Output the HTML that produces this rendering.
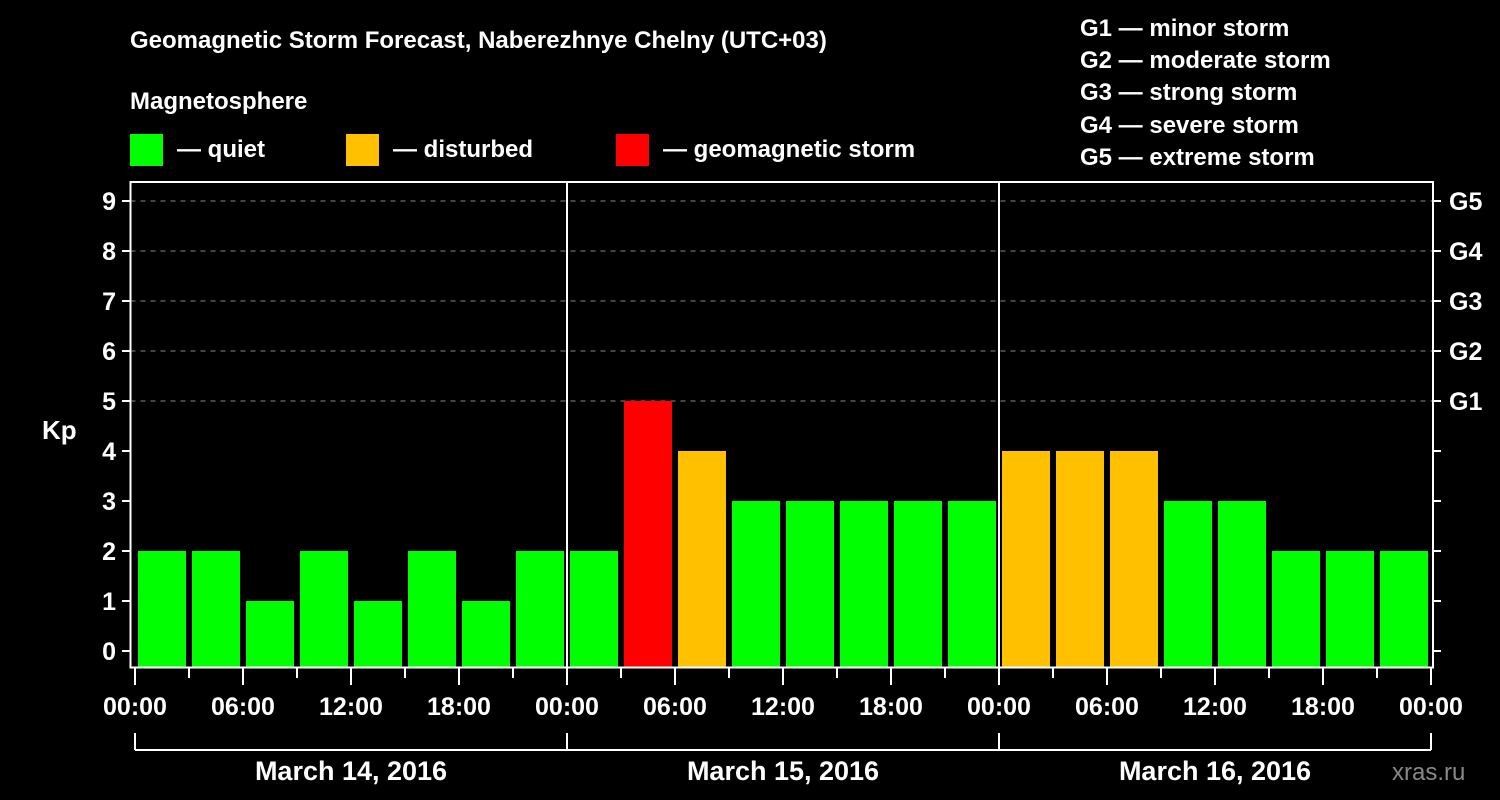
<!DOCTYPE html>
<html><head><meta charset="utf-8"><style>
body{margin:0;background:#000;width:1500px;height:800px;overflow:hidden}
svg{display:block;font-family:"Liberation Sans",Arial,sans-serif;font-weight:bold}
</style></head><body>
<svg id="c" width="1500" height="800" viewBox="0 0 1500 800">
<text x="130" y="48" fill="#fff" font-size="24">Geomagnetic Storm Forecast, Naberezhnye Chelny (UTC+03)</text>
<text x="130" y="109" fill="#fff" font-size="24">Magnetosphere</text>
<g><rect x="130" y="134" width="33" height="32" fill="#00ff00"/><text x="177" y="157" fill="#fff" font-size="24">— quiet</text></g>
<g><rect x="346" y="134" width="33" height="32" fill="#ffc000"/><text x="393" y="157" fill="#fff" font-size="24">— disturbed</text></g>
<g><rect x="616" y="134" width="33" height="32" fill="#ff0000"/><text x="663" y="157" fill="#fff" font-size="24">— geomagnetic storm</text></g>
<g fill="#fff" font-size="24">
<text x="1080" y="36">G1 — minor storm</text>
<text x="1080" y="68">G2 — moderate storm</text>
<text x="1080" y="100">G3 — strong storm</text>
<text x="1080" y="133">G4 — severe storm</text>
<text x="1080" y="165">G5 — extreme storm</text>
</g>
<text x="42" y="439" fill="#fff" font-size="26">Kp</text>
<text x="1392" y="780" fill="#888" font-size="24" font-weight="normal">xras.ru</text>
<g id="plot"></g>
</svg>
<script>
const days = ["March 14, 2016","March 15, 2016","March 16, 2016"];
const kp = [2,2,1,2,1,2,1,2, 2,5,4,3,3,3,3,3, 4,4,4,3,3,2,2,2];
const yTicks = [0,1,2,3,4,5,6,7,8,9];
const gLabels = ["G1","G2","G3","G4","G5"];
const gLevels = [5,6,7,8,9];
const xLabels = ["00:00","06:00","12:00","18:00"];

const NS="http://www.w3.org/2000/svg";
const g=document.getElementById('plot');
const L=130.5,R=1433,T=182,B=667.5;
const x0=135,dayW=432;
const y=v=>651-v*50;
const xh=h=>x0+h*dayW/24;
function mk(t,a){const e=document.createElementNS(NS,t);for(const k in a)e.setAttribute(k,a[k]);g.appendChild(e);return e;}
function col(v){return v>=5?"#ff0000":v>=4?"#ffc000":"#00ff00";}
// grid
gLevels.forEach(v=>{const e=mk('line',{x1:L,x2:R,y1:y(v),y2:y(v),stroke:"#888","stroke-dasharray":"5,5","stroke-width":1});

});
// bars
kp.forEach((v,i)=>{const e=mk('rect',{x:xh(i*3)+3,y:y(v),width:48,height:B-y(v),fill:col(v)});

});
// day separators
for(let d=1;d<days.length;d++){const e=mk('line',{x1:xh(d*24),x2:xh(d*24),y1:T,y2:B,stroke:"#fff","stroke-width":2});

}
// frame
const fr=mk('rect',{x:L,y:T,width:R-L,height:B-T,fill:"none",stroke:"#fff","stroke-width":2});


// y ticks
yTicks.forEach(v=>{mk('line',{x1:122,x2:L,y1:y(v),y2:y(v),stroke:"#fff","stroke-width":2});
mk('line',{x1:R,x2:R+8,y1:y(v),y2:y(v),stroke:"#fff","stroke-width":2});
const t=mk('text',{x:116,y:y(v)+9,fill:"#fff","font-size":25,"text-anchor":"end"});t.textContent=v;

});
gLevels.forEach((v,i)=>{const t=mk('text',{x:1449,y:y(v)+9,fill:"#fff","font-size":25});t.textContent=gLabels[i];

});
// x ticks
const nd=days.length;
for(let h=0;h<=nd*24;h+=3){const long=h%6===0;
mk('line',{x1:xh(h),x2:xh(h),y1:B,y2:long?685:678,stroke:"#fff","stroke-width":2});
if(long&&(h%6===0)){const lbl=h===nd*24?xLabels[0]:xLabels[(h/6)%4];
const t=mk('text',{x:xh(h),y:715,fill:"#fff","font-size":25,"text-anchor":"middle"});t.textContent=lbl;

}}
// day brackets
mk('line',{x1:x0,x2:xh(nd*24),y1:750,y2:750,stroke:"#fff","stroke-width":2});
for(let d=0;d<=nd;d++)mk('line',{x1:xh(d*24),x2:xh(d*24),y1:733,y2:750,stroke:"#fff","stroke-width":2});
days.forEach((s,d)=>{const t=mk('text',{x:xh(d*24+12),y:780,fill:"#fff","font-size":27,"text-anchor":"middle"});t.textContent=s;

});
</script>
</body></html>
